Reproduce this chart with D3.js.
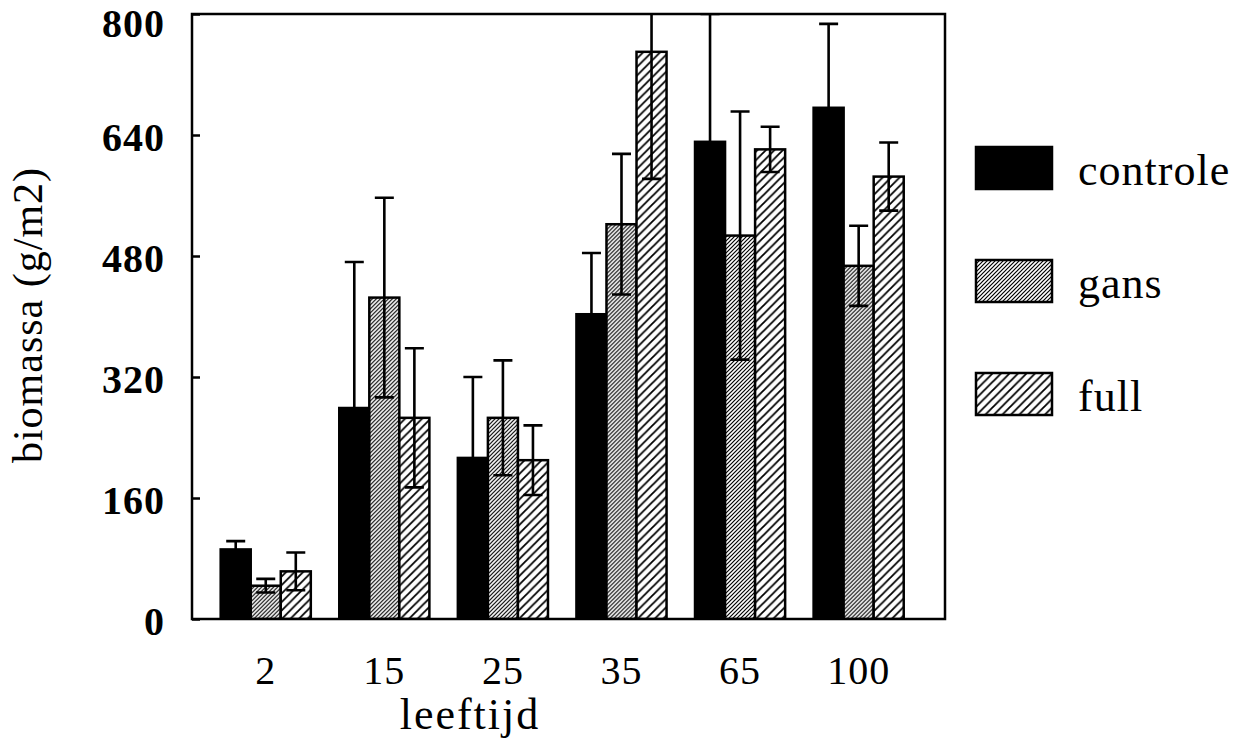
<!DOCTYPE html>
<html lang="en">
<head>
<meta charset="UTF-8">
<title>biomassa per leeftijd</title>
<script src="https://d3js.org/d3.v7.min.js"></script>
<style>
    body { margin: 0; background: #fff; }
    svg text { font-family: "Liberation Serif", "Times New Roman", serif; fill: #000; }
</style>
</head>
<body>
<svg id="chart" width="1236" height="746"></svg>
<script>
    // data
    const ages = ["2", "15", "25", "35", "65", "100"];
    const seriesNames = ["controle", "gans", "full"];
    const controle = [92, 279, 213, 403, 631, 676];
    const controleErr = [11, 193, 107, 81, 169, 111];
    const gans = [44, 425, 266, 522, 507, 467];
    const gansErr = [9, 132, 76, 93, 164, 53];
    const full = [63, 266, 210, 750, 621, 585];
    const fullErr = [25, 92, 46, 168, 30, 45];
    const yTicks = [0, 160, 320, 480, 640, 800];

    const values = { controle, gans, full };
    const errors = { controle: controleErr, gans: gansErr, full: fullErr };

    const svg = d3.select('#chart');
    const plotLeft = 192, plotRight = 945, plotTop = 14, plotBottom = 619;

    // hatch patterns
    const defs = svg.append('defs');
    function hatch(id, w, sw) {
        const p = defs.append('pattern')
            .attr('id', id)
            .attr('patternUnits', 'userSpaceOnUse')
            .attr('width', w).attr('height', w);
        p.append('rect').attr('width', w).attr('height', w).attr('fill', '#fff');
        p.append('path')
            .attr('d', `M0,${w} L${w},0 M${-w / 2},${w / 2} L${w / 2},${-w / 2} M${w / 2},${w * 1.5} L${w * 1.5},${w / 2}`)
            .attr('stroke', '#000').attr('stroke-width', sw);
    }
    hatch('hatchDense', 4, 1.2);
    hatch('hatchWide', 8.5, 1.8);
    const fills = { controle: '#000', gans: 'url(#hatchDense)', full: 'url(#hatchWide)' };

    defs.append('clipPath').attr('id', 'plotClip')
        .append('rect').attr('x', plotLeft).attr('y', plotTop - 1)
        .attr('width', plotRight - plotLeft).attr('height', plotBottom - plotTop + 1);

    const x0 = d3.scaleBand().domain(ages).range([plotLeft, plotRight])
        .paddingInner(0.24).paddingOuter(0.295).align(0.41);
    const x1 = d3.scaleBand().domain(seriesNames).range([0, x0.bandwidth()]);
    const y = d3.scaleLinear().domain([0, 800]).range([plotBottom, plotTop]);

    const plot = svg.append('g').attr('clip-path', 'url(#plotClip)');

    const groups = plot.selectAll('g.grp')
        .data(ages)
        .enter().append('g')
        .attr('class', 'grp')
        .attr('transform', d => `translate(${x0(d)},0)`);

    groups.selectAll('rect')
        .data((d, i) => seriesNames.map(s => ({ s, v: values[s][i], e: errors[s][i] })))
        .enter().append('rect')
        .attr('x', d => x1(d.s))
        .attr('y', d => y(d.v))
        .attr('width', x1.bandwidth())
        .attr('height', d => y(0) - y(d.v))
        .attr('fill', d => fills[d.s])
        .attr('stroke', '#000')
        .attr('stroke-width', 2.5);

    // error bars
    const capW = 19;
    groups.selectAll('path.err')
        .data((d, i) => seriesNames.map(s => ({ s, v: values[s][i], e: errors[s][i] })))
        .enter().append('path')
        .attr('class', 'err')
        .attr('fill', 'none')
        .attr('stroke', '#000')
        .attr('stroke-width', 2.6)
        .attr('d', d => {
            const cx = x1(d.s) + x1.bandwidth() / 2;
            const hi = y(d.v + d.e), lo = y(d.v - d.e);
            return `M${cx},${lo} L${cx},${hi} M${cx - capW / 2},${hi} L${cx + capW / 2},${hi} M${cx - capW / 2},${lo} L${cx + capW / 2},${lo}`;
        });

    // frame
    svg.append('rect')
        .attr('x', plotLeft).attr('y', plotTop)
        .attr('width', plotRight - plotLeft).attr('height', plotBottom - plotTop)
        .attr('fill', 'none').attr('stroke', '#000').attr('stroke-width', 2.5);

    // y axis
    const yAxis = svg.append('g')
        .attr('transform', `translate(${plotLeft},0)`)
        .call(d3.axisLeft(y).tickValues(yTicks).tickSizeInner(-8).tickSizeOuter(0).tickPadding(27));
    yAxis.select('.domain').remove();
    yAxis.selectAll('line').attr('stroke', '#000').attr('stroke-width', 2.5);
    yAxis.selectAll('text')
        .style('font-size', '40px').style('font-weight', 'bold')
        .style('letter-spacing', '1px')
        .attr('dy', d => d === 800 ? '0.55em' : '0.38em');

    // x labels
    svg.append('g').selectAll('text')
        .data(ages)
        .enter().append('text')
        .attr('x', d => x0(d) + x0.bandwidth() / 2)
        .attr('y', 684)
        .attr('text-anchor', 'middle')
        .style('font-size', '40px')
        .style('letter-spacing', '1px')
        .text(d => d);

    svg.append('text')
        .attr('x', 470).attr('y', 729)
        .attr('text-anchor', 'middle')
        .style('font-size', '44px')
        .style('letter-spacing', '2px')
        .text('leeftijd');

    svg.append('text')
        .attr('transform', 'translate(42,315) rotate(-90)')
        .attr('text-anchor', 'middle')
        .style('font-size', '42px')
        .style('letter-spacing', '1px')
        .text('biomassa (g/m2)');

    // legend
    const legend = svg.append('g').selectAll('g')
        .data(seriesNames)
        .enter().append('g')
        .attr('transform', (d, i) => `translate(976,${147 + i * 113})`);
    legend.append('rect')
        .attr('width', 76).attr('height', 42)
        .attr('fill', d => fills[d])
        .attr('stroke', '#000').attr('stroke-width', 2.5);
    legend.append('text')
        .attr('x', 102).attr('y', 38)
        .style('font-size', '44px')
        .style('letter-spacing', '1px')
        .text(d => d);
</script>
</body>
</html>
